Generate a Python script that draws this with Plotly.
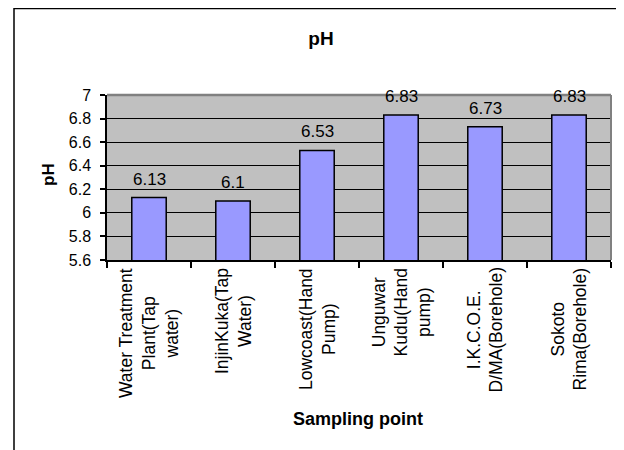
import plotly.graph_objects as go

categories = [
    "Water Treatment<br>Plant(Tap<br>water)",
    "InjinKuka(Tap<br>Water)",
    "Lowcoast(Hand<br>Pump)",
    "Unguwar<br>Kudu(Hand<br>pump)",
    "I.K.C.O.E.<br>D/MA(Borehole)",
    "Sokoto<br>Rima(Borehole)",
]
ph_values = [6.13, 6.1, 6.53, 6.83, 6.73, 6.83]
y_ticks = [5.6, 5.8, 6.0, 6.2, 6.4, 6.6, 6.8, 7.0]

FONT = "Liberation Sans, Arial, sans-serif"
OFF = 8  # page margin offset
W, H = 624 - OFF, 450 - OFF
L, R, T, B = 107 - OFF, 13, 95 - OFF, 190
PW, PH = W - L - R, H - T - B


def px_x(px):
    return (px - OFF - L) / PW


def px_y(py):
    return (H - B - (py - OFF)) / PH


fig = go.Figure()
fig.add_trace(go.Bar(
    x=categories, y=ph_values,
    marker=dict(color="#9999FF", line=dict(color="black", width=1.5)),
    hoverinfo="skip",
))

annotations = []
# data labels
for c, v in zip(categories, ph_values):
    annotations.append(dict(
        x=c, y=v, xref="x", yref="y", text=str(v), showarrow=False,
        yanchor="bottom", yshift=7, font=dict(family=FONT, size=17, color="black"),
    ))
# category labels (rotated, centre-aligned lines)
for c in categories:
    annotations.append(dict(
        x=c, y=0, xref="x", yref="paper", text=c, showarrow=False,
        textangle=-90, align="center", xanchor="center", yanchor="top", yshift=-6,
        font=dict(family=FONT, size=17.5, color="black"),
    ))
# axis titles
annotations.append(dict(
    x=px_x(48), y=px_y(175), xref="paper", yref="paper", text="<b>pH</b>", showarrow=False,
    textangle=-90, xanchor="center", yanchor="middle",
    font=dict(family=FONT, size=17, color="black"),
))
annotations.append(dict(
    x=px_x(358), y=px_y(419), xref="paper", yref="paper", text="<b>Sampling point</b>",
    showarrow=False, xanchor="center", yanchor="middle",
    font=dict(family=FONT, size=18, color="black"),
))

shapes = [
    # outer chart border
    dict(type="rect", xref="paper", yref="paper", x0=px_x(14), x1=px_x(650),
         y0=px_y(480), y1=px_y(8.5), line=dict(color="black", width=1.5), layer="above"),
    # plot area border (top & right)
    dict(type="line", xref="paper", yref="paper", x0=0, x1=1, y0=1, y1=1,
         line=dict(color="#808080", width=2.5), layer="above"),
    dict(type="line", xref="paper", yref="paper", x0=1, x1=1, y0=0, y1=1,
         line=dict(color="#808080", width=2), layer="above"),
]

fig.update_layout(
    width=W, height=H,
    margin=dict(l=L, r=R, t=T, b=B, pad=0),
    paper_bgcolor="white", plot_bgcolor="#C0C0C0",
    showlegend=False, bargap=0.59,
    title=dict(text="<b>pH</b>", x=px_x(321), xref="paper", xanchor="center",
               y=1 - (38 - OFF) / H, yref="container", yanchor="middle",
               font=dict(family=FONT, size=19, color="black")),
    font=dict(family=FONT, color="black"),
    annotations=annotations, shapes=shapes,
)
fig.update_yaxes(
    range=[5.6, 7.0], tickvals=y_ticks, ticktext=[f"{t:g}" for t in y_ticks],
    showgrid=True, gridcolor="black", gridwidth=1,
    showline=True, linecolor="black", linewidth=1.5,
    ticks="outside", ticklen=5, tickcolor="black", tickwidth=1.5,
    tickfont=dict(family=FONT, size=16, color="black"), ticklabelstandoff=6,
    zeroline=False, fixedrange=True,
)
fig.update_xaxes(
    showticklabels=False, showgrid=False,
    showline=True, linecolor="black", linewidth=1.5,
    ticks="outside", tickson="boundaries", ticklen=6, tickcolor="black", tickwidth=1.5,
    fixedrange=True,
)

fig.write_html("out.html")
